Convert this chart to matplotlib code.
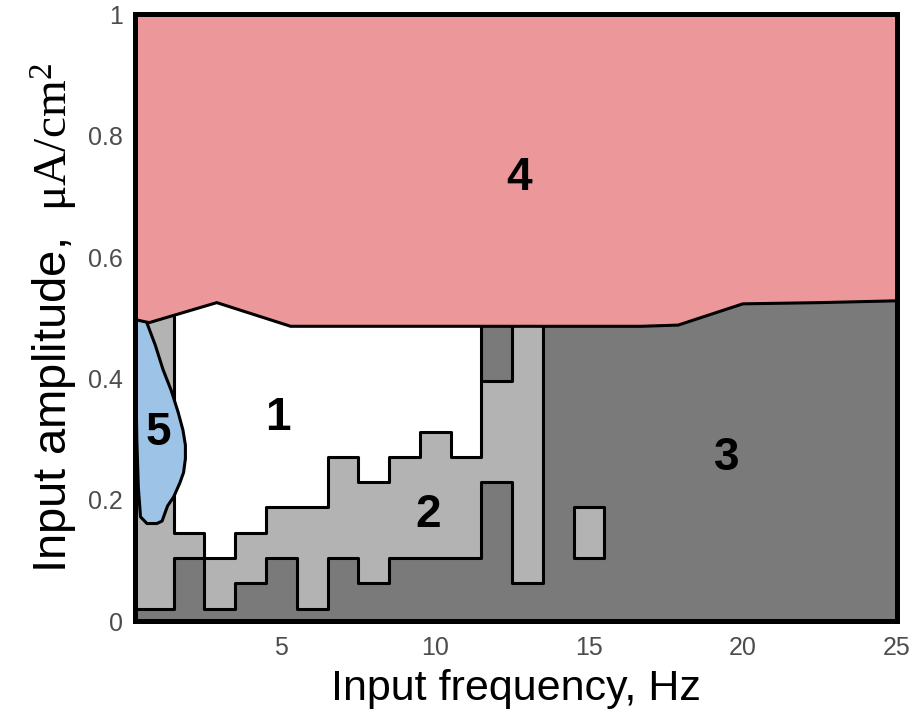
import matplotlib
matplotlib.use("Agg")
import matplotlib.pyplot as plt

plt.rcParams['font.family'] = ['Liberation Sans', 'DejaVu Sans']
plt.rcParams['mathtext.fontset'] = 'custom'
plt.rcParams['mathtext.rm'] = 'Liberation Serif'
plt.rcParams['mathtext.it'] = 'Liberation Serif:italic'

# boundary of region 4 (upper edge of the grey/white/blue zones)
pink_f = [0.25, 0.7, 2.9, 5.3, 16.7, 17.9, 20.0, 22.5, 25.0]
pink_a = [0.497, 0.492, 0.525, 0.486, 0.486, 0.488, 0.523, 0.525, 0.528]

# region 2 (light grey), stepped outline
reg2_f = [0.25, 0.25, 1.5, 1.5, 2.5, 2.5, 3.5, 3.5, 4.5, 4.5, 5.5, 5.5, 6.5, 6.5,
          7.5, 7.5, 8.5, 8.5, 11.5, 11.5, 12.5, 12.5, 13.5, 13.5]
reg2_a = [0.6, 0.0208, 0.0208, 0.104, 0.104, 0.0208, 0.0208, 0.0625, 0.0625, 0.104,
          0.104, 0.0208, 0.0208, 0.104, 0.104, 0.0625, 0.0625, 0.104, 0.104, 0.229,
          0.229, 0.0625, 0.0625, 0.6]

# region 1 (white)
reg1_f = [1.5, 1.5, 2.5, 2.5, 3.5, 3.5, 4.5, 4.5, 6.5, 6.5, 7.5, 7.5, 8.5, 8.5,
          9.5, 9.5, 10.5, 10.5, 11.5, 11.5]
reg1_a = [0.6, 0.146, 0.146, 0.104, 0.104, 0.146, 0.146, 0.1875, 0.1875, 0.271,
          0.271, 0.229, 0.229, 0.271, 0.271, 0.3125, 0.3125, 0.271, 0.271, 0.6]

# region 3 patches inside region 2 and region 2 island inside region 3
block3_f = [11.5, 12.5, 12.5, 11.5]
block3_a = [0.396, 0.396, 0.6, 0.6]
island2_f = [14.5, 15.5, 15.5, 14.5]
island2_a = [0.104, 0.104, 0.1875, 0.1875]

# region 5 (blue)
reg5_f = [0.27, 0.58, 0.64, 0.9, 1.15, 1.42, 1.64, 1.8, 1.88, 1.88, 1.82, 1.7,
          1.5, 1.3, 1.12, 0.95, 0.63, 0.42, 0.35, 0.3, 0.27]
reg5_a = [0.52, 0.52, 0.49, 0.455, 0.415, 0.38, 0.345, 0.315, 0.29, 0.268, 0.245,
          0.228, 0.205, 0.19, 0.165, 0.161, 0.161, 0.172, 0.22, 0.3, 0.4]

labels = ['1', '2', '3', '4', '5']
label_f = [4.87, 9.77, 19.49, 12.73, 1.0]
label_a = [0.335, 0.175, 0.269, 0.731, 0.31]

c_dark = '#7a7a7a'
c_light = '#b3b3b3'
c_pink = '#ec989a'
c_blue = '#9dc3e6'
lw = 2.2

fig = plt.figure(figsize=(9.14, 7.19), dpi=100)
ax = fig.add_axes([0.148, 0.136, 0.833, 0.844])
ax.set_facecolor(c_dark)

ax.fill(reg2_f, reg2_a, facecolor=c_light, edgecolor='black', lw=lw,
        joinstyle='round', zorder=1)
ax.fill(block3_f, block3_a, facecolor=c_dark, edgecolor='black', lw=lw,
        joinstyle='round', zorder=2)
ax.fill(island2_f, island2_a, facecolor=c_light, edgecolor='black', lw=lw,
        joinstyle='round', zorder=2)
ax.fill(reg1_f, reg1_a, facecolor='white', edgecolor='black', lw=lw,
        joinstyle='round', zorder=3)
ax.fill(reg5_f, reg5_a, facecolor=c_blue, edgecolor='black', lw=lw,
        joinstyle='round', zorder=4)
ax.fill_between(pink_f, pink_a, 1.0, facecolor=c_pink, edgecolor='none', zorder=5)
ax.plot(pink_f, pink_a, color='black', lw=lw, solid_joinstyle='round', zorder=6)

for t, f, a in zip(labels, label_f, label_a):
    ax.text(f, a, t, fontsize=33, fontweight='bold', ha='center', va='center',
            zorder=7)

ax.set_xlim(0.25, 25)
ax.set_ylim(0, 1)
ax.set_xticks([5, 10, 15, 20, 25])
ax.set_yticks([0, 0.2, 0.4, 0.6, 0.8, 1])
ax.set_yticklabels(['0', '0.2', '0.4', '0.6', '0.8', '1'])
ax.tick_params(length=0, labelsize=18, labelcolor='#4d4d4d')
ax.tick_params(axis='x', pad=11)
ax.tick_params(axis='y', pad=9)
for s in ax.spines.values():
    s.set_linewidth(3.6)
    s.set_zorder(10)

ax.set_xlabel('Input frequency, Hz', fontsize=31, labelpad=6)
ax.set_ylabel(r'Input amplitude,  $\mathrm{\mu A/cm^2}$', fontsize=34, labelpad=6)

fig.savefig('out.png', dpi=100)
